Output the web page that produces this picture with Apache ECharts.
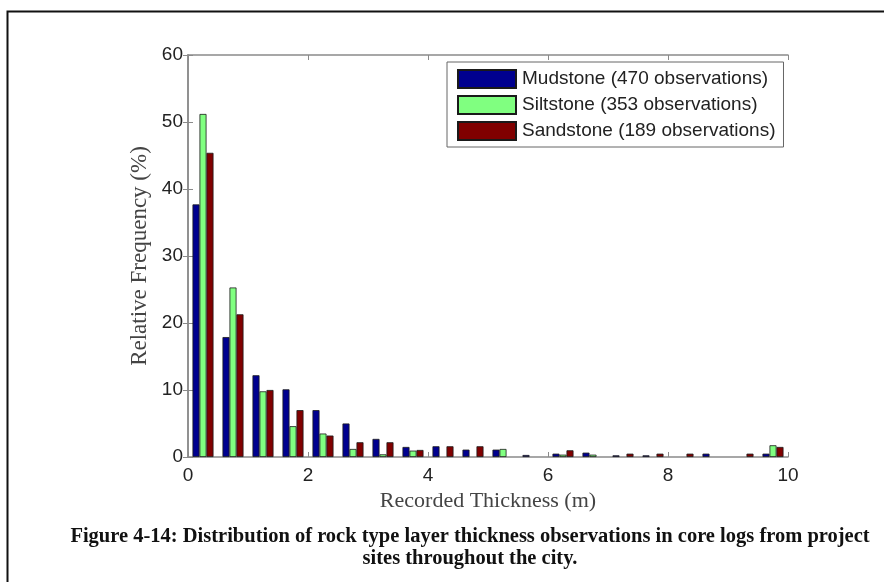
<!DOCTYPE html>
<html>
<head>
<meta charset="utf-8">
<script src="https://cdn.jsdelivr.net/npm/echarts@6/dist/echarts.min.js"></script>
<style>
html,body{margin:0;padding:0;background:#fff;}
#chart{width:884px;height:582px;}
</style>
</head>
<body>
<div id="chart"></div>
<script>
// Bin centres (m), bin width 0.5 m
const binCenters = ['0.25','0.75','1.25','1.75','2.25','2.75','3.25','3.75','4.25','4.75','5.25','5.75','6.25','6.75','7.25','7.75','8.25','8.75','9.25','9.75'];
const mudstone  = [37.7, 17.9, 12.2, 10.1, 7.0, 5.0, 2.7, 1.5, 1.6, 1.1, 1.1, 0.3, 0.5, 0.65, 0.25, 0.25, null, 0.5, null, 0.5];
const siltstone = [51.2, 25.3, 9.8, 4.6, 3.5, 1.2, 0.4, 0.95, null, null, 1.2, null, 0.35, 0.35, null, null, null, null, null, 1.75];
const sandstone = [45.4, 21.3, 10.0, 7.0, 3.2, 2.2, 2.2, 1.05, 1.6, 1.6, null, null, 1.0, null, 0.5, 0.5, 0.5, null, 0.5, 1.5];
const seriesNames = ['Mudstone (470 observations)', 'Siltstone (353 observations)', 'Sandstone (189 observations)'];
const xTitle = 'Recorded Thickness (m)';
const yTitle = 'Relative Frequency (%)';
const captionLines = ['Figure 4-14: Distribution of rock type layer thickness observations in core logs from project', 'sites throughout the city.'];

const chart = echarts.init(document.getElementById('chart'));
const axisGray = '#8a8a8a';
const sans = 'Liberation Sans, Arial, sans-serif';
const serif = 'Liberation Serif, Times New Roman, serif';

function barSeries(name, data, color) {
  return {
    name: name, type: 'bar', xAxisIndex: 0, yAxisIndex: 0,
    data: data, barWidth: 7, barGap: '0%',
    itemStyle: { color: color, borderColor: '#1a1a1a', borderWidth: 0.8 },
    animation: false, silent: true
  };
}

chart.setOption({
  backgroundColor: '#fff',
  animation: false,
  grid: { left: 188, top: 55, width: 600, height: 402 },
  legend: {
    orient: 'vertical', left: 447, top: 62,
    padding: [7, 8, 6, 10], itemGap: 6,
    itemWidth: 58, itemHeight: 18,
    backgroundColor: '#fff', borderColor: '#666', borderWidth: 1,
    textStyle: { fontFamily: sans, fontSize: 19, color: '#222', padding: [0, 0, 0, 1] },
    icon: 'rect', selectedMode: false,
    data: seriesNames
  },
  xAxis: [
    { type: 'category', data: binCenters, position: 'top', show: false, boundaryGap: true },
    { type: 'value', min: 0, max: 10, interval: 2, position: 'bottom',
      axisLine: { show: true, lineStyle: { color: axisGray, width: 1.5 } },
      axisTick: { show: true, inside: true, length: 5, lineStyle: { color: axisGray } },
      axisLabel: { fontFamily: sans, fontSize: 19, color: '#222', margin: 9 },
      splitLine: { show: false },
      name: xTitle, nameLocation: 'middle', nameGap: 26,
      nameTextStyle: { fontFamily: serif, fontSize: 22, color: '#444' } },
    { type: 'value', min: 0, max: 10, interval: 2, position: 'top',
      axisLine: { show: true, lineStyle: { color: axisGray, width: 1.5 } },
      axisTick: { show: true, inside: true, length: 5, lineStyle: { color: axisGray } },
      axisLabel: { show: false }, splitLine: { show: false } }
  ],
  yAxis: [
    { type: 'value', min: 0, max: 60, interval: 10, position: 'left',
      axisLine: { show: true, lineStyle: { color: axisGray, width: 1.5 } },
      axisTick: { show: true, inside: true, length: 5, lineStyle: { color: axisGray } },
      axisLabel: { fontFamily: sans, fontSize: 19, color: '#222', margin: 5 },
      splitLine: { show: false },
      name: yTitle, nameLocation: 'middle', nameGap: 32,
      nameTextStyle: { fontFamily: serif, fontSize: 23, color: '#444' } },
    { type: 'value', min: 0, max: 60, interval: 10, position: 'right',
      axisLine: { show: true, lineStyle: { color: axisGray, width: 1.5 } },
      axisTick: { show: true, inside: true, length: 5, lineStyle: { color: axisGray } },
      axisLabel: { show: false }, splitLine: { show: false } }
  ],
  series: [
    barSeries(seriesNames[0], mudstone, '#00008f'),
    barSeries(seriesNames[1], siltstone, '#80ff80'),
    barSeries(seriesNames[2], sandstone, '#800000')
  ],
  graphic: [
    { type: 'rect', left: 5, top: 9, shape: { width: 900, height: 600 },
      style: { fill: 'none', stroke: '#111', lineWidth: 2 }, silent: true },
    { type: 'text', x: 470, y: 526,
      style: { text: captionLines[0], font: 'bold 20.5px ' + serif, fill: '#111', textAlign: 'center' } },
    { type: 'text', x: 470, y: 548,
      style: { text: captionLines[1], font: 'bold 20.5px ' + serif, fill: '#111', textAlign: 'center' } }
  ]
});
</script>
</body>
</html>
